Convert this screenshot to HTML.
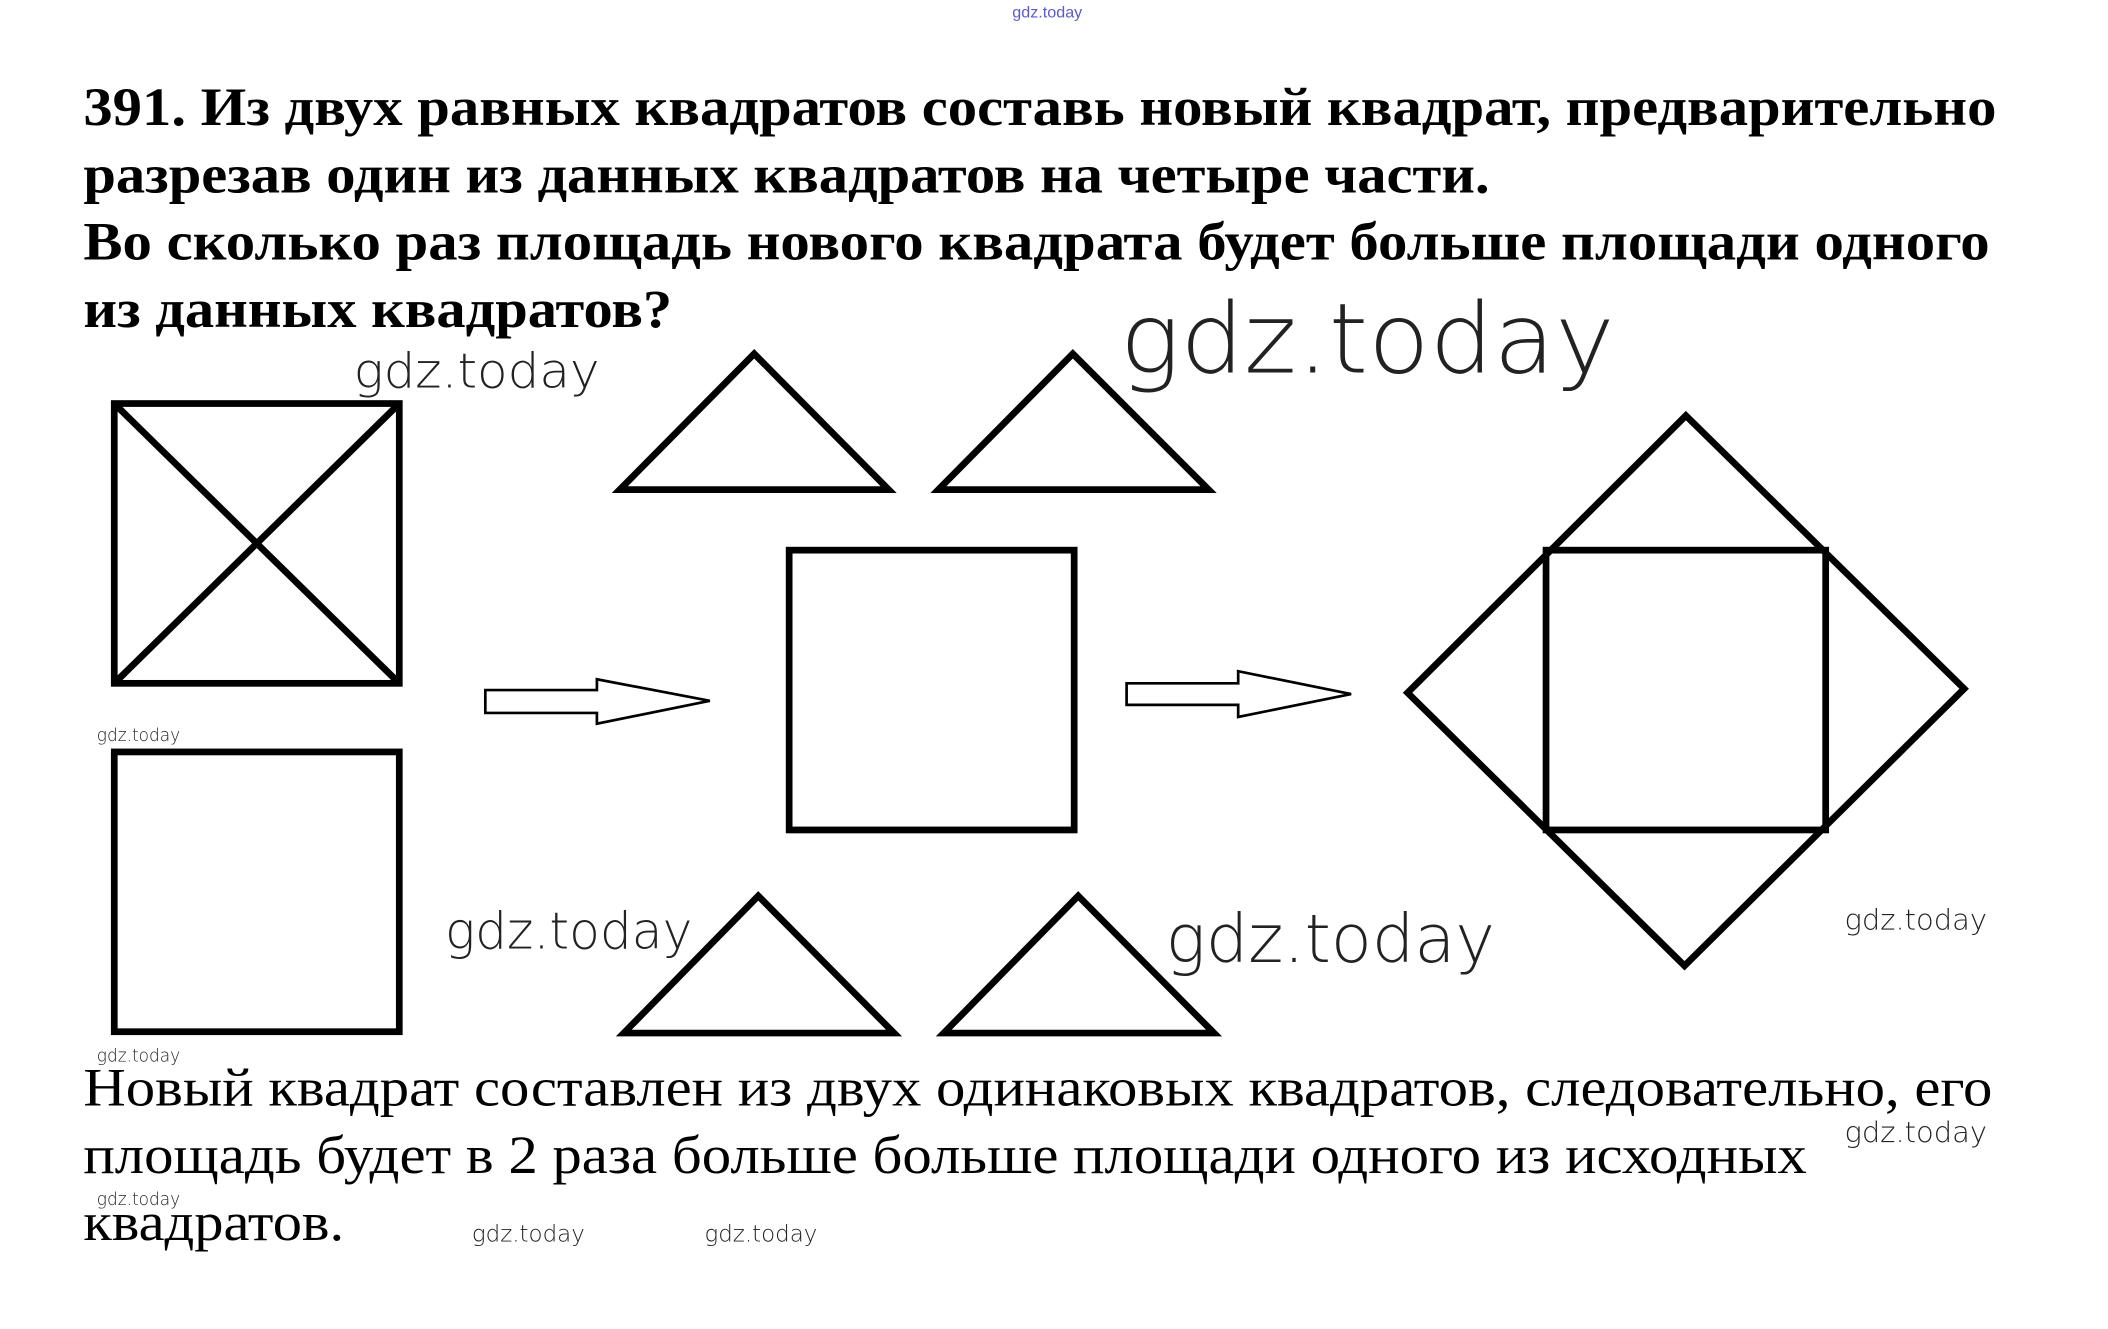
<!DOCTYPE html>
<html><head><meta charset="utf-8"><style>
html,body{margin:0;padding:0;background:#fff;}
svg{display:block;}
</style></head><body>
<svg width="2108" height="1329" viewBox="0 0 1568 988" preserveAspectRatio="none" xmlns="http://www.w3.org/2000/svg">
<rect width="1568" height="988" fill="#fff"/>
<g font-family="Liberation Sans, sans-serif" fill="#222">
<text x="753" y="13" font-size="12" fill="#5a5acc">gdz.today</text>
</g>
<g font-family="Liberation Serif, serif" font-weight="bold" font-size="40" fill="#000">
<text x="62" y="93" textLength="1423" lengthAdjust="spacingAndGlyphs">391. Из двух равных квадратов составь новый квадрат, предварительно</text>
<text x="62" y="143" textLength="1046" lengthAdjust="spacingAndGlyphs">разрезав один из данных квадратов на четыре части.</text>
<text x="62" y="193" textLength="1418" lengthAdjust="spacingAndGlyphs">Во сколько раз площадь нового квадрата будет больше площади одного</text>
<text x="62" y="243" textLength="438" lengthAdjust="spacingAndGlyphs">из данных квадратов?</text>
</g>
<g font-family="Liberation Serif, serif" font-size="40" fill="#000">
<text x="62" y="822" textLength="1420" lengthAdjust="spacingAndGlyphs">Новый квадрат составлен из двух одинаковых квадратов, следовательно, его</text>
<text x="62" y="872" textLength="1282" lengthAdjust="spacingAndGlyphs">площадь будет в 2 раза больше больше площади одного из исходных</text>
<text x="62" y="922" textLength="194" lengthAdjust="spacingAndGlyphs">квадратов.</text>
</g>
<g font-family="DejaVu Sans, sans-serif" font-weight="200" fill="#222">
<text x="833" y="277" font-size="72" textLength="368" lengthAdjust="spacingAndGlyphs">gdz.today</text>
<text x="263" y="288" font-size="36" textLength="183" lengthAdjust="spacingAndGlyphs">gdz.today</text>
<text x="331" y="705" font-size="38" textLength="184" lengthAdjust="spacingAndGlyphs">gdz.today</text>
<text x="867" y="715" font-size="50" textLength="245" lengthAdjust="spacingAndGlyphs">gdz.today</text>
<text x="1372" y="691" font-size="21" textLength="106" lengthAdjust="spacingAndGlyphs">gdz.today</text>
<text x="1372" y="849" font-size="21" textLength="106" lengthAdjust="spacingAndGlyphs">gdz.today</text>
<text x="72" y="551" font-size="13" textLength="62" lengthAdjust="spacingAndGlyphs">gdz.today</text>
<text x="72" y="789" font-size="13" textLength="62" lengthAdjust="spacingAndGlyphs">gdz.today</text>
<text x="72" y="896" font-size="13" textLength="62" lengthAdjust="spacingAndGlyphs">gdz.today</text>
<text x="351" y="923" font-size="17" textLength="84" lengthAdjust="spacingAndGlyphs">gdz.today</text>
<text x="524" y="923" font-size="17" textLength="84" lengthAdjust="spacingAndGlyphs">gdz.today</text>
</g>
<g fill="none" stroke="#000" stroke-width="5" stroke-linejoin="miter">
<rect x="85" y="300" width="212" height="208"/>
<line x1="85" y1="300" x2="297" y2="508"/>
<line x1="297" y1="300" x2="85" y2="508"/>
<rect x="85" y="559" width="212" height="208"/>
<polygon points="461,364 561,263 661,364"/>
<polygon points="698,364 798,263 899,364"/>
<polygon points="464,768 564,666 665,768"/>
<polygon points="702,768 802,666 903,768"/>
<rect x="587" y="409" width="212" height="208"/>
<polygon points="1254,309 1461,512 1253,718 1047,515"/>
<rect x="1150" y="409" width="208" height="208"/>
</g>
<g fill="none" stroke="#000" stroke-width="2">
<polygon points="361,513 444,513 444,505 528,521 444,538 444,530 361,530"/>
<polygon points="838,508 921,508 921,499 1005,516 921,533 921,524 838,524"/>
</g>
</svg>
</body></html>
